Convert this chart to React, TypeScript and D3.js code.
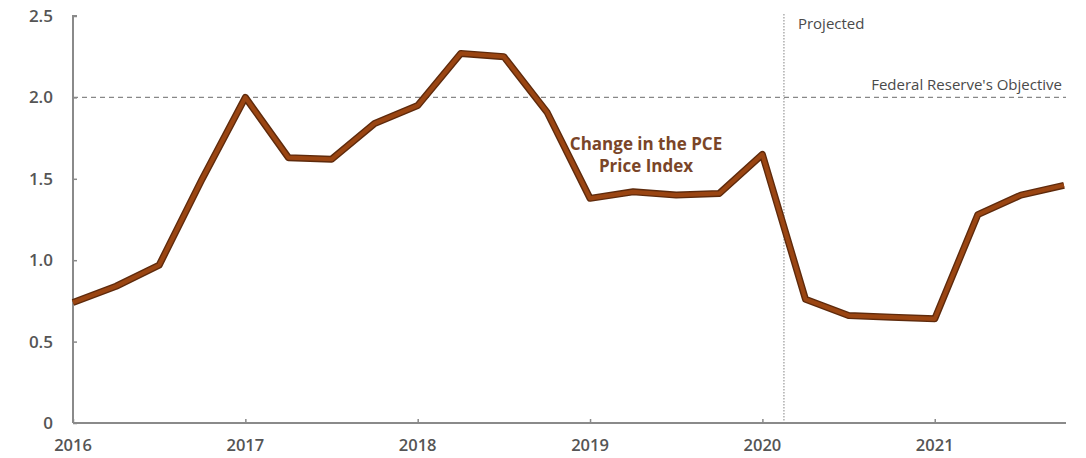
import React, { useRef, useEffect } from 'react';
import * as d3 from 'd3';

// quarterly observations, year fraction
const quarters = [
  2016, 2016.25, 2016.5, 2016.75,
  2017, 2017.25, 2017.5, 2017.75,
  2018, 2018.25, 2018.5, 2018.75,
  2019, 2019.25, 2019.5, 2019.75,
  2020, 2020.25, 2020.5, 2020.75,
  2021, 2021.25, 2021.5, 2021.75,
];
const pceChange = [
  0.74, 0.84, 0.97, 1.5,
  2.0, 1.63, 1.62, 1.84,
  1.95, 2.27, 2.25, 1.91,
  1.38, 1.42, 1.4, 1.41,
  1.65, 0.76, 0.66, 0.65,
  0.64, 1.28, 1.4, 1.46,
];
const yearTicks = [2016, 2017, 2018, 2019, 2020, 2021];
const valueTicks = [0, 0.5, 1.0, 1.5, 2.0, 2.5];
const objective = 2.0;
const projectedStart = 2020.125;

const App = () => {
  const svgRef = useRef<SVGSVGElement>(null);

  useEffect(() => {
    const svg = d3.select(svgRef.current);
    svg.selectAll("*").remove();

    const font = "'Open Sans', 'Noto Sans', sans-serif";
    const axisColor = "#8a8a8a";
    const textColor = "#555";

    const x = d3.scaleLinear().domain([2016, 2021.75]).range([73, 1064]);
    const y = d3.scaleLinear().domain([0, 2.5]).range([423, 16]);

    // objective line
    svg.append("line")
      .attr("x1", x(2016)).attr("x2", 1066)
      .attr("y1", y(objective)).attr("y2", y(objective))
      .attr("stroke", "#888").attr("stroke-width", 1.2)
      .attr("stroke-dasharray", "5,4");

    svg.append("text")
      .attr("x", 1062).attr("y", y(objective) - 7)
      .attr("text-anchor", "end")
      .attr("font-family", font).attr("font-size", "15px")
      .attr("fill", "#4a4a4a")
      .text("Federal Reserve's Objective");

    // projected divider
    svg.append("line")
      .attr("x1", x(projectedStart)).attr("x2", x(projectedStart))
      .attr("y1", 14).attr("y2", y(0))
      .attr("stroke", "#999").attr("stroke-width", 1.2)
      .attr("stroke-dasharray", "1.5,1.5");

    svg.append("text")
      .attr("x", x(projectedStart) + 14).attr("y", 29)
      .attr("font-family", font).attr("font-size", "15px")
      .attr("fill", "#4a4a4a")
      .text("Projected");

    // axes
    const yAxis = svg.append("g")
      .attr("transform", `translate(${x(2016)},0)`)
      .call(d3.axisRight(y).tickValues(valueTicks).tickSize(4).tickFormat(() => ""));
    yAxis.select(".domain").attr("stroke", axisColor).attr("stroke-width", 2)
      .attr("d", `M4,${y(2.5)}H0V${y(0)}`);
    yAxis.selectAll(".tick line").attr("stroke", axisColor).attr("stroke-width", 1.5);

    svg.append("g")
      .selectAll("text")
      .data(valueTicks)
      .join("text")
      .attr("x", 53)
      .attr("y", d => y(d) + 6)
      .attr("text-anchor", "end")
      .attr("font-family", font).attr("font-size", "17px").attr("font-weight", 600)
      .attr("fill", textColor)
      .text(d => d === 0 ? "0" : d.toFixed(1));

    const xAxis = svg.append("g")
      .attr("transform", `translate(0,${y(0)})`)
      .call(d3.axisTop(x).tickValues(yearTicks).tickSize(4).tickFormat(() => ""));
    xAxis.select(".domain").attr("stroke", axisColor).attr("stroke-width", 2)
      .attr("d", `M${x(2016)},0H1066`);
    xAxis.selectAll(".tick line").attr("stroke", axisColor).attr("stroke-width", 1.5);

    svg.append("g")
      .selectAll("text")
      .data(yearTicks)
      .join("text")
      .attr("x", d => x(d))
      .attr("y", 451)
      .attr("text-anchor", "middle")
      .attr("font-family", font).attr("font-size", "16.5px").attr("font-weight", 600)
      .attr("fill", textColor)
      .text(d => d);

    // PCE line
    const points = quarters.map((q, i) => [q, pceChange[i]] as [number, number]);
    const line = d3.line<[number, number]>().x(d => x(d[0])).y(d => y(d[1]));
    svg.append("path")
      .datum(points)
      .attr("d", line)
      .attr("fill", "none")
      .attr("stroke", "#5e2a0c")
      .attr("stroke-width", 7)
      .attr("stroke-linejoin", "round");
    svg.append("path")
      .datum(points)
      .attr("d", line)
      .attr("fill", "none")
      .attr("stroke", "#9a4512")
      .attr("stroke-width", 4.2)
      .attr("stroke-linejoin", "round");

    // series label
    const label = svg.append("text")
      .attr("text-anchor", "middle")
      .attr("font-family", font).attr("font-size", "17px").attr("font-weight", 700)
      .attr("fill", "#7a4528");
    label.append("tspan").attr("x", 646).attr("y", 150).text("Change in the PCE");
    label.append("tspan").attr("x", 646).attr("y", 172).text("Price Index");
  }, []);

  return (
    <svg ref={svgRef} width={1086} height={458}
      style={{ position: 'absolute', left: 0, top: 0, background: '#fff' }} />
  );
};

export default App;
